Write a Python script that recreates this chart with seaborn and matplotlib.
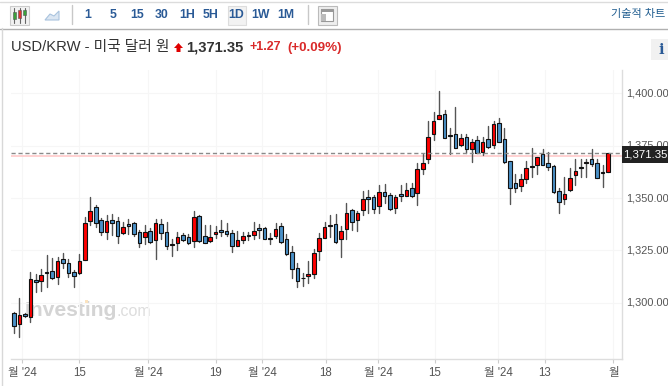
import numpy as np
import pandas as pd
import seaborn as sns
import matplotlib.pyplot as plt
from matplotlib.patches import Rectangle, Polygon
from matplotlib.transforms import ScaledTranslation

opens = [1295.1,1290.0,1294.9,1293.3,1311.1,1310.6,1314.6,1315.2,1312.2,1320.8,
         1319.2,1314.8,1314.1,1320.6,1339.2,1345.5,1339.5,1333.6,1339.5,1339.2,
         1333.2,1337.5,1337.9,1333.6,1331.3,1334.4,1330.0,1337.5,1334.0,1327.5,
         1328.7,1332.4,1331.6,1329.5,1341.3,1332.1,1329.4,1332.8,1334.9,1334.1,
         1333.1,1327.3,1329.8,1332.2,1332.3,1335.7,1335.7,1330.9,1332.0,1336.5,
         1330.3,1324.1,1316.8,1312.0,1312.7,1313.9,1324.9,1331.1,1337.0,1337.4,
         1330.6,1335.4,1344.1,1339.5,1344.1,1350.3,1350.3,1346.3,1353.1,1351.6,
         1345.4,1351.7,1351.2,1354.6,1352.2,1363.8,1368.4,1380.3,1387.6,1389.9,
         1379.9,1380.3,1375.1,1378.9,1373.3,1377.8,1371.9,1378.1,1375.2,1385.6,
         1378.1,1367.6,1357.2,1355.6,1359.2,1365.2,1365.9,1371.0,1366.8,1365.4,
         1353.3,1349.5,1353.7,1361.1,1364.6,1366.5,1368.4,1366.8,1362.2,1362.5]
closes = [1289.2,1294.4,1293.8,1311.3,1309.8,1313.2,1314.3,1311.7,1320.1,1318.9,
          1314.1,1313.0,1319.8,1338.2,1343.6,1338.2,1333.6,1339.0,1337.9,1332.1,
          1336.0,1336.7,1332.7,1328.4,1333.6,1329.0,1337.9,1333.2,1327.0,1328.2,
          1331.3,1329.8,1328.6,1340.8,1329.7,1328.6,1331.3,1333.6,1333.6,1332.7,
          1327.3,1329.8,1332.0,1331.9,1334.1,1335.0,1330.3,1330.6,1335.2,1329.0,
          1323.1,1316.0,1310.6,1311.7,1313.9,1323.6,1330.8,1336.0,1336.6,1329.0,
          1334.1,1343.1,1338.7,1342.7,1349.5,1349.5,1344.9,1353.1,1351.2,1344.6,
          1350.6,1350.8,1353.6,1350.8,1363.7,1366.8,1379.2,1386.5,1389.4,1378.4,
          1379.4,1374.0,1378.4,1373.2,1376.8,1371.3,1376.5,1374.3,1385.1,1376.8,
          1367.0,1354.6,1354.6,1358.9,1364.1,1364.9,1369.4,1365.9,1364.6,1352.9,
          1348.3,1351.8,1359.7,1363.0,1364.5,1367.3,1366.0,1359.7,1361.8,1371.35]
highs = [1295.9,1302.2,1295.4,1314.9,1313.8,1316.0,1322.8,1321.6,1322.1,1323.6,
         1320.8,1315.7,1323.2,1340.8,1350.6,1346.8,1340.5,1341.9,1342.4,1341.1,
         1338.7,1339.8,1338.7,1334.8,1337.1,1335.5,1339.8,1339.8,1338.7,1330.3,
         1334.0,1333.5,1332.8,1343.8,1341.9,1337.1,1337.1,1336.8,1339.5,1337.9,
         1335.0,1334.3,1333.9,1333.6,1338.5,1337.4,1336.3,1333.1,1338.1,1338.2,
         1332.8,1327.1,1318.9,1314.4,1320.1,1325.7,1333.1,1338.4,1341.7,1342.2,
         1336.6,1347.4,1345.0,1343.8,1353.5,1353.8,1351.4,1356.3,1356.5,1352.2,
         1351.4,1356.3,1357.0,1357.3,1366.8,1371.0,1386.5,1391.1,1401.0,1391.9,
         1383.5,1393.2,1380.5,1380.5,1378.1,1379.7,1379.2,1384.5,1386.8,1388.3,
         1383.5,1367.6,1361.3,1361.3,1367.8,1373.7,1369.7,1373.2,1371.8,1365.7,
         1354.6,1360.2,1364.1,1368.6,1368.4,1368.4,1373.3,1368.4,1365.7,1371.35]
lows = [1285.9,1284.0,1293.5,1291.1,1305.1,1305.9,1307.5,1311.3,1309.0,1316.5,
        1312.5,1307.5,1313.6,1320.5,1337.3,1336.0,1332.4,1330.6,1332.4,1328.7,
        1332.7,1332.8,1332.1,1326.8,1328.1,1328.4,1320.8,1330.3,1325.5,1322.5,
        1325.2,1329.5,1328.1,1326.8,1329.2,1328.4,1328.9,1330.8,1331.9,1332.0,
        1324.3,1327.1,1328.7,1329.8,1330.6,1330.9,1330.3,1328.1,1330.8,1328.7,
        1322.8,1312.0,1307.4,1308.1,1309.6,1311.7,1320.4,1330.8,1331.6,1328.7,
        1322.0,1330.3,1334.7,1334.4,1341.7,1342.7,1343.0,1343.0,1347.4,1344.3,
        1343.0,1348.7,1350.9,1350.6,1346.7,1361.4,1366.8,1377.6,1387.5,1378.4,
        1371.0,1373.7,1374.9,1371.3,1367.3,1371.3,1370.5,1373.7,1373.7,1376.5,
        1366.8,1347.3,1353.0,1353.3,1357.3,1359.9,1361.3,1365.7,1363.3,1352.5,
        1343.0,1347.2,1353.5,1356.2,1360.2,1360.2,1365.2,1359.4,1355.4,1362.5]

y_ticks = [1300, 1325, 1350, 1375, 1400]
x_ticks = [1.5, 12, 24.6, 37, 45.5, 57.2, 66.8, 77.2, 88.8, 97.4, 110]
x_labels = ["월 '24", "15", "월 '24", "19", "월 '24", "18", "월 '24", "15", "월 '24", "13", "월"]
intervals = ["1", "5", "15", "30", "1H", "5H", "1D", "1W", "1M"]
last_price = 1371.35
prev_line = 1370.0

sns.set_theme(style="white")
plt.rcParams['font.family'] = ['Liberation Sans', 'Noto Sans CJK KR', 'DejaVu Sans']

W, H = 668, 386
fig = plt.figure(figsize=(W / 100, H / 100), dpi=100)
ax = fig.add_axes([11 / W, 1 - 359 / H, (622 - 11) / W, (359 - 70) / H])

# page chrome, in pixel coordinates (added early so ax.text can use it)
top = fig.add_axes([0, 0, 1, 1], zorder=5)
top.set_xlim(0, W)
top.set_ylim(H, 0)
top.axis('off')
top.patch.set_alpha(0)

df = pd.DataFrame({'i': np.arange(len(opens)), 'open': opens, 'close': closes, 'high': highs, 'low': lows})
df['bottom'] = df[['open', 'close']].min(axis=1)
df['height'] = (df['close'] - df['open']).abs()

# wicks, one short line per candle
wicks = pd.concat([df[['i', 'high']].rename(columns={'high': 'price'}),
                   df[['i', 'low']].rename(columns={'low': 'price'})])
sns.lineplot(data=wicks, x='i', y='price', units='i', estimator=None, sort=False,
             color='#555555', linewidth=1, zorder=2, ax=ax)

# bodies
sns.barplot(x=df['i'], y=df['height'], bottom=df['bottom'], native_scale=True, width=0.66,
            color='#4a90c8', edgecolor='#111111', linewidth=0.8, saturation=1, zorder=3, ax=ax)
for p, o, c in zip(ax.patches, opens, closes):
    p.set_facecolor('#ff0000' if c > o else '#4a90c8')

ax.axhline(prev_line, color='#ffc9c9', lw=1.2, zorder=1)
ax.axhline(last_price, color='#8a8a8a', lw=1, ls=(0, (3, 2)), zorder=4)

ax.set_xlim(-0.55, 111.56)
ax.set_ylim(1273.3, 1411.0)
ax.set_xticks(x_ticks)
ax.set_xticklabels(x_labels)
ax.set_yticks(y_ticks)
ax.set_yticklabels([f'{v:,.2f}' for v in y_ticks])
ax.yaxis.tick_right()
ax.set_xlabel('')
ax.set_ylabel('')
ax.grid(True, color='#f6f6f6', lw=0.8)
ax.set_axisbelow(True)
ax.tick_params(axis='x', length=3, width=0.8, color='#cccccc', labelcolor='#555555', labelsize=8.3, pad=3, bottom=True)
ax.tick_params(axis='y', length=2.5, width=0.8, color='#cccccc', labelcolor='#555555', labelsize=7.9, pad=0.5, right=True)
nudge = ScaledTranslation(0, 1 / 100, fig.dpi_scale_trans)
for lab in ax.get_yticklabels():
    lab.set_transform(lab.get_transform() + nudge)
sns.despine(ax=ax, left=True, top=True, right=False)
for s in ['right', 'bottom']:
    ax.spines[s].set_color('#dddddd')
    ax.spines[s].set_linewidth(1)

top.plot([0, W], [1.5, 1.5], color='#dcdcdc', lw=1)
top.plot([0, W], [28.5, 28.5], color='#b0b0b0', lw=1)
top.plot([1.5, 1.5], [28, H], color='#d8d8d8', lw=1)
for x in [71.5, 307.5]:
    top.plot([x, x], [5, 24], color='#c8c8c8', lw=1)

# toolbar icons
top.add_patch(Rectangle((9.5, 5.5), 19, 19, fc='#f2f2f2', ec='#cccccc', lw=0.8))
for x, y0, y1, c in [(14, 12, 19, '#3aa03a'), (19.5, 10, 18, '#e03030'), (24.5, 10, 15, '#3aa03a')]:
    top.plot([x, x], [7.5, 22.5], color='#666666', lw=0.8)
    top.add_patch(Rectangle((x - 1.5, y0), 3, y1 - y0, fc=c, ec='#555555', lw=0.4, zorder=3))
top.add_patch(Polygon([(45, 20), (50, 14), (54, 16), (59, 11), (59, 20)], fc='#dbe6f2', ec='#a9c3de', lw=0.8))
top.add_patch(Rectangle((227.5, 5.5), 18, 19, fc='#f2f2f2', ec='#dddddd', lw=0.8))
top.add_patch(Rectangle((317.5, 5.5), 19, 19, fc='#eeeeee', ec='#bbbbbb', lw=0.8))
top.add_patch(Rectangle((321, 9), 12, 12, fc='#ffffff', ec='#999999', lw=0.8))
top.add_patch(Rectangle((321, 9), 12, 3, fc='#999999', lw=0))
top.add_patch(Rectangle((321, 14), 5, 7, fc='#bbbbbb', lw=0))

for lab, x in zip(intervals, [88, 113, 137, 162, 187, 211, 236, 261, 286]):
    top.text(x, 14.5, lab, ha='center', va='center', fontsize=8.8, fontweight='bold', color='#2a5a96')
top.text(665, 13.5, '기술적 차트', ha='right', va='center', fontsize=8, color='#1f5c8f')

# header line
top.text(11, 47.5, 'USD/KRW - 미국 달러 원', ha='left', va='center', fontsize=10.6, color='#333333')
top.add_patch(Polygon([(174, 48), (178.5, 43), (183, 48), (180.5, 48), (180.5, 52), (176.5, 52), (176.5, 48)],
                      fc='#e00000', lw=0))
top.text(186, 47.5, '1,371.35', ha='left', va='center', fontsize=10.6, fontweight='bold', color='#333333')
top.text(249, 47.5, '+1.27', ha='left', va='center', fontsize=9, fontweight='bold', color='#d92a2a')
top.text(287, 47.5, '(+0.09%)', ha='left', va='center', fontsize=9.6, fontweight='bold', color='#d92a2a')
top.add_patch(Rectangle((651, 39), 17, 21, fc='#f1f1f1', lw=0))
top.text(661.5, 49.5, 'i', ha='center', va='center', fontsize=10.5, fontweight='bold', family='DejaVu Serif', color='#2a5a96')

# watermark sits under the candles
ax.text(25, 310, 'Investing', ha='left', va='center', fontsize=15.2, fontweight='bold', color='#d4d4d4',
        transform=top.transData, zorder=0.5)
ax.text(116, 312, '.com', ha='left', va='center', fontsize=11.5, color='#dddddd',
        transform=top.transData, zorder=0.5)
ax.add_patch(Rectangle((85, 300), 3, 3, fc='#fbe3bf', lw=0, transform=top.transData, zorder=0.6))

# last price flag
top.add_patch(Rectangle((622, 146), 46, 17, fc='#222222', lw=0))
top.text(645, 154.5, '1,371.35', ha='center', va='center', fontsize=8.2, color='#ffffff')

fig.savefig('out.png', dpi=100)
